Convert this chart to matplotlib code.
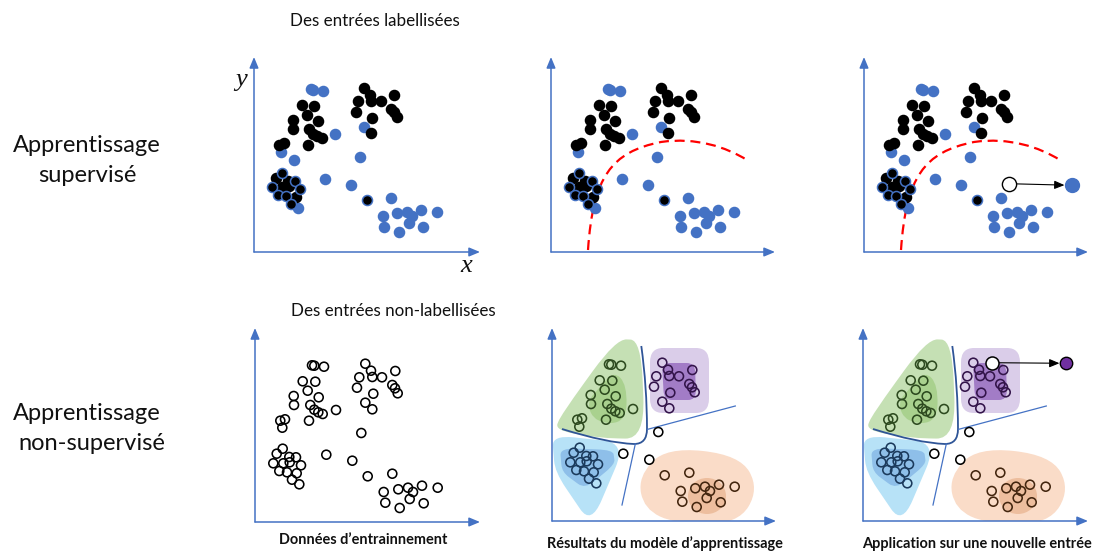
import numpy as np
import matplotlib
matplotlib.use('Agg')
import matplotlib.pyplot as plt
from matplotlib.path import Path
from matplotlib.patches import PathPatch, Ellipse

# ---------------- data ----------------
pt_x = [57, 59.3, 69, 47.7, 60.3, 52.7, 38.7, 63.7, 39, 55.3, 59.3, 63.3, 67.7, 54, 25.3, 30, 81, 27.3, 40,
        110.3, 116, 117.3, 104.3, 127, 140.3, 102, 137.3, 140, 142.7, 118.3, 117.3, 110.3,
        106.3, 71.3, 97.3, 112.7,
        21.7, 27.7, 34.3, 41, 18.3, 28.3, 34.7, 46, 24.3, 32, 41.7, 37, 44.3,
        137.3, 128.7, 143.3, 153, 158, 167, 182.7, 130.3, 144.7, 154.7, 168.7]
pt_y = [162.7, 162.3, 161.3, 146.7, 146.3, 137.3, 132, 130.7, 123, 123, 118.3, 115.7, 114, 107.3, 107.3, 108.7, 118, 100.3, 92.3,
        164.3, 157.3, 151, 150.7, 150.7, 157, 140.3, 143, 139.7, 134.7, 134.3, 118.7, 125.3,
        95, 73.3, 67.3, 51.7,
        74.3, 79.3, 71, 70.7, 64.7, 64.7, 65.7, 62.7, 57, 55.7, 54.7, 48.3, 43.7,
        54.3, 36, 38.7, 40.3, 36, 42.3, 40.3, 25.3, 20, 29, 24.7]
pt_label = (['B'] * 3 + ['K'] * 13 + ['B'] * 3 + ['K'] * 12 + ['B'] + ['B'] * 3 + ['KB']
            + ['K', 'KB', 'K', 'KB', 'KB', 'K', 'K', 'KB', 'KB', 'KB', 'K', 'KB', 'B'] + ['B'] * 11)
pt_cluster = (['g'] * 19 + ['p'] * 13 + ['n'] * 3 + ['o'] + ['b'] * 13 + ['o'] * 11)
only_in_panels_1_3 = [18]          # index of the point absent from the other panels

# new entries
new_sup_xy = (145.3, 68.3)
new_sup_result_xy = (207.7, 66.7)
new_unsup_xy = (129.3, 164.3)
new_unsup_result_xy = (202.7, 163.7)

# red decision boundary (supervised)
boundary_x = [37, 42, 60, 110, 145, 175, 196]
boundary_y = [2, 75, 100, 110, 115, 105, 92]

titles_top = "Des entrées labellisées"
titles_bottom = "Des entrées non-labellisées"
row_labels = [("Apprentissage", "supervisé"), ("Apprentissage", "non-supervisé")]
col_labels = ["Données d’entrainnement", "Résultats du modèle d’apprentissage",
              "Application sur une nouvelle entrée"]

# ---------------- style ----------------
AX = '#4472C4'
BLUE = '#4472C4'
W, H = 1094, 552
FONT = ['Lato', 'DejaVu Sans']

fig = plt.figure(figsize=(W / 100, H / 100), dpi=100)
fig.patch.set_facecolor('white')

px = np.array(pt_x)
py = np.array(pt_y)
lab = np.array(pt_label)
clu = np.array(pt_cluster)


def panel(ox, oy, right, top, yshift=0):
    ax = fig.add_axes([ox / W, (H - oy) / H, (right - ox) / W, (oy - top) / H])
    ax.set_xlim(0, right - ox)
    ax.set_ylim(yshift, oy - top + yshift)
    ax.axis('off')
    ap = dict(arrowstyle='-|>,head_length=0.65,head_width=0.27', color=AX, lw=1.1,
              shrinkA=0, shrinkB=0)
    ax.annotate('', xy=(0, 1), xytext=(0, 0), xycoords='axes fraction', arrowprops=ap)
    ax.annotate('', xy=(1, 0), xytext=(0, 0), xycoords='axes fraction', arrowprops=ap)
    return ax


def rounded_path(verts, frac):
    pts = np.asarray(verts, float)
    n = len(pts)
    vv, cc = [], []
    for i in range(n):
        p = pts[i]
        a = p + (pts[i - 1] - p) * frac
        b = p + (pts[(i + 1) % n] - p) * frac
        vv.append(a)
        cc.append(Path.MOVETO if i == 0 else Path.LINETO)
        vv += [p, b]
        cc += [Path.CURVE3, Path.CURVE3]
    vv.append(vv[0])
    cc.append(Path.CLOSEPOLY)
    return Path(vv, cc)


def draw_top(ax, mask):
    for lbl, fc, ec in [('B', BLUE, BLUE), ('K', 'black', 'black'), ('KB', 'black', BLUE)]:
        m = mask & (lab == lbl)
        ax.scatter(px[m], py[m], s=52, c=fc, edgecolors=ec, linewidths=1.1, zorder=3, clip_on=False)


def draw_boundary(ax):
    verts = list(zip(boundary_x, boundary_y))
    codes = [Path.MOVETO] + [Path.CURVE4] * 6
    ax.add_patch(PathPatch(Path(verts, codes), fill=False, ec='#FF0000', lw=1.6,
                           ls=(0, (4.5, 2.6)), zorder=2))


blobs = {
    'g': ([(64, 188), (89, 187), (93, 88), (46, 89), (3, 97), (9, 112)], 0.42, '#C5E0B4',
          [(62, 156), (75, 142), (74, 104), (44, 104), (34, 124), (48, 140)], 0.5, '#A9D18E', '#2D4A1F'),
    'p': ([(98, 179), (157, 179), (157, 114), (98, 114)], 0.22, '#DACDE9',
          [(110, 164), (143, 164), (144, 127), (112, 127)], 0.25, '#A27CC6', '#33144A'),
    'b': ([(0, 92), (74, 84), (39, 2), (3, 55)], 0.3, '#B7E2F7',
          [(8, 79), (61, 77), (63, 63), (33, 38), (10, 55)], 0.3, '#8EBFE9', '#1B3A5C'),
    'o': ([(86, 50), (114, 80), (188, 72), (207, 38), (186, 3), (124, 3), (92, 18)], 0.5, '#FADCC8',
          None, None, '#EDBE9E', '#43260F'),
}


def draw_unsup_result(ax):
    for k, (ov, of, oc, iv, ifr, ic, ec) in blobs.items():
        ax.add_patch(PathPatch(rounded_path(ov, of), fc=oc, ec='none', zorder=1))
        if iv is not None:
            ax.add_patch(PathPatch(rounded_path(iv, ifr), fc=ic, ec='none', zorder=1.5))
        else:
            ax.add_patch(Ellipse((155, 31), 38, 36, fc=ic, ec='none', zorder=1.5))
    # separating lines
    thick = Path([(89.3, 181), (95, 140), (95, 98), (95, 83), (82, 83), (55, 84), (10, 98)],
                 [Path.MOVETO, Path.CURVE3, Path.CURVE3, Path.CURVE3, Path.CURVE3, Path.CURVE3, Path.CURVE3])
    ax.add_patch(PathPatch(thick, fill=False, ec='#2F5597', lw=1.3, zorder=2))
    ax.plot([95.7, 183.3], [97.7, 121], color=AX, lw=0.9, zorder=2)
    ax.plot([83.3, 70], [83, 22], color=AX, lw=0.9, zorder=2)
    mask = np.ones(len(px), bool)
    mask[only_in_panels_1_3] = False
    for k, ec in [('g', blobs['g'][6]), ('p', blobs['p'][6]), ('b', blobs['b'][6]),
                  ('o', blobs['o'][6]), ('n', 'black')]:
        m = mask & (clu == k)
        ax.scatter(px[m], py[m], s=42, facecolors='none', edgecolors=ec, linewidths=1.15, zorder=3)


all_mask = np.ones(len(px), bool)
mask2 = all_mask.copy()
mask2[only_in_panels_1_3] = False

# ---- top row ----
ax1 = panel(254, 252, 480, 57)
draw_top(ax1, all_mask)

ax2 = panel(551, 252, 775, 57)
draw_top(ax2, mask2)
draw_boundary(ax2)

ax3 = panel(864, 252, 1088, 57)
draw_top(ax3, all_mask)
draw_boundary(ax3)
ax3.annotate('', xy=new_sup_result_xy, xytext=new_sup_xy,
             arrowprops=dict(arrowstyle='-|>,head_length=0.6,head_width=0.25', color='black', lw=0.8,
                             shrinkA=5.5, shrinkB=5.2), zorder=4)
ax3.scatter(*new_sup_xy, s=105, c='white', edgecolors='black', linewidths=1.0, zorder=5, clip_on=False)
ax3.scatter(*new_sup_result_xy, s=100, c=BLUE, edgecolors=BLUE, linewidths=1, zorder=5, clip_on=False)

# ---- bottom row ----
ax4 = panel(255, 522, 480, 328, yshift=6)
m4 = mask2
ax4.scatter(px[m4], py[m4], s=42, facecolors='none', edgecolors='black', linewidths=1.15, zorder=3)

ax5 = panel(552, 521, 776, 328, yshift=6)
draw_unsup_result(ax5)

ax6 = panel(863, 521, 1088, 328, yshift=6)
draw_unsup_result(ax6)
ax6.annotate('', xy=new_unsup_result_xy, xytext=new_unsup_xy,
             arrowprops=dict(arrowstyle='-|>,head_length=0.6,head_width=0.25', color='black', lw=0.8,
                             shrinkA=5, shrinkB=4.5), zorder=4)
ax6.scatter(*new_unsup_xy, s=88, c='white', edgecolors='black', linewidths=1.1, zorder=5, clip_on=False)
ax6.scatter(*new_unsup_result_xy, s=80, c='#7030A0', edgecolors='black', linewidths=1.0, zorder=5, clip_on=False)

# ---------------- text ----------------
renderer = fig.canvas.get_renderer()


def fit_text(x, y, s, target_w, size=12, **kw):
    t = fig.text(x / W, 1 - y / H, s, fontsize=size, **kw)
    w = t.get_window_extent(renderer=renderer).width
    t.set_fontsize(size * target_w / w)
    return t


fit_text(375, 21, titles_top, 170, ha='center', va='center', family=FONT, color='#111111')
fit_text(393, 311, titles_bottom, 205, ha='center', va='center', family=FONT, color='#111111')

t = fit_text(86.5, 151.7, row_labels[0][0], 147, ha='center', va='baseline', family=FONT, color='#111111')
big = t.get_fontsize()
fig.text(87 / W, 1 - 181.7 / H, row_labels[0][1], fontsize=big, ha='center', va='baseline', family=FONT, color='#111111')
fig.text(86.5 / W, 1 - 420 / H, row_labels[1][0], fontsize=big, ha='center', va='baseline', family=FONT, color='#111111')
fig.text(92 / W, 1 - 450 / H, row_labels[1][1], fontsize=big, ha='center', va='baseline', family=FONT, color='#111111')

tb = fit_text(363, 544, col_labels[0], 167, ha='center', va='baseline', family=FONT, weight='bold', color='#111111')
bs = tb.get_fontsize()
fig.text(665 / W, 1 - 548 / H, col_labels[1], fontsize=bs, ha='center', va='baseline', family=FONT, weight='bold', color='#111111')
fig.text(976.5 / W, 1 - 548 / H, col_labels[2], fontsize=bs, ha='center', va='baseline', family=FONT, weight='bold', color='#111111')

fig.text(241.5 / W, 1 - 80 / H, 'y', fontsize=19, style='italic', family=['Liberation Serif', 'DejaVu Serif'],
         ha='center', va='center', color='#111111')
fig.text(466 / W, 1 - 266 / H, 'x', fontsize=19, style='italic', family=['Liberation Serif', 'DejaVu Serif'],
         ha='center', va='center', color='#111111')

fig.savefig('out.png', dpi=100, facecolor='white')
